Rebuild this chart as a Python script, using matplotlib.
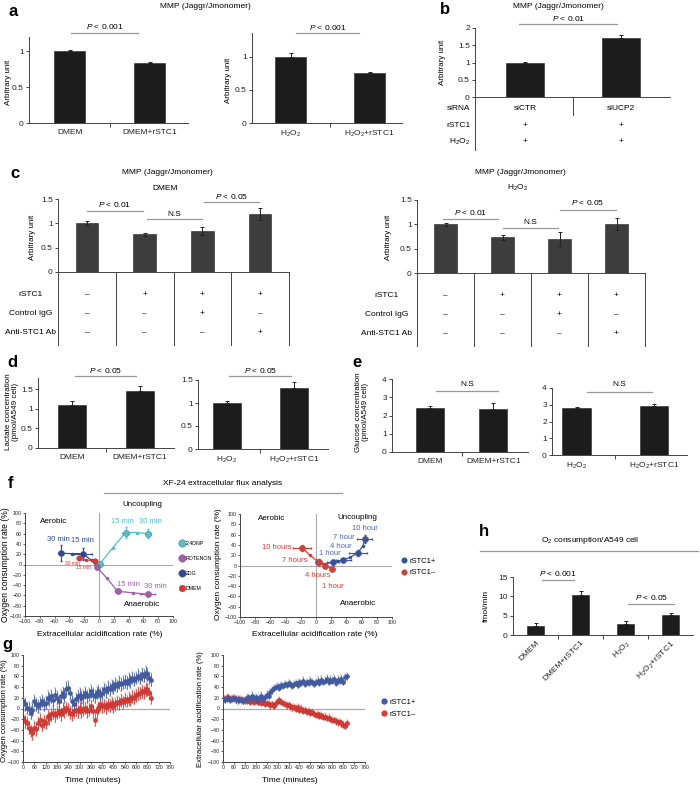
import matplotlib.pyplot as plt
from matplotlib.lines import Line2D

plt.rcParams['font.family'] = ['Liberation Sans', 'DejaVu Sans']
plt.rcParams['mathtext.fontset'] = 'custom'
plt.rcParams['mathtext.rm'] = 'Liberation Sans'
plt.rcParams['mathtext.it'] = 'Liberation Sans:italic'
plt.rcParams['axes.linewidth'] = 0.7
plt.rcParams['axes.edgecolor'] = '#444444'
plt.rcParams['xtick.color'] = '#444444'
plt.rcParams['ytick.color'] = '#444444'
plt.rcParams['xtick.labelcolor'] = '#222222'
plt.rcParams['ytick.labelcolor'] = '#222222'

# ---- data ----
h2o2 = 'H$_2$O$_2$'
a_left_lab = ['DMEM', 'DMEM+rSTC1']
a_left_val = [1.0, 0.84]
a_left_err = [0.02, 0.01]
a_right_lab = [h2o2, h2o2 + '+rSTC1']
a_right_val = [1.0, 0.75]
a_right_err = [0.06, 0.02]

b_val = [1.0, 1.72]
b_err = [0.01, 0.08]
b_rows = ['siRNA', 'rSTC1', h2o2]
b_table = [['siCTR', 'siUCP2'], ['+', '+'], ['+', '+']]

c_rows = ['rSTC1', 'Control IgG', 'Anti-STC1 Ab']
c_table = [['–', '+', '+', '+'], ['–', '–', '+', '–'], ['–', '–', '–', '+']]
c_dmem_val = [1.0, 0.78, 0.85, 1.19]
c_dmem_err = [0.04, 0.03, 0.08, 0.12]
c_h2o2_val = [1.0, 0.73, 0.70, 1.01]
c_h2o2_err = [0.03, 0.05, 0.15, 0.12]

d_left_val = [1.10, 1.46]
d_left_err = [0.10, 0.12]
d_right_val = [1.0, 1.33]
d_right_err = [0.04, 0.12]

e_left_val = [2.40, 2.38]
e_left_err = [0.10, 0.30]
e_right_val = [2.82, 2.90]
e_right_err = [0.05, 0.15]

h_lab = ['DMEM', 'DMEM+rSTC1', h2o2, h2o2 + '+rSTC1']
h_val = [2.4, 10.3, 2.9, 5.3]
h_err = [0.6, 1.2, 0.8, 0.4]

# f: XF-24 flux (ECAR %, OCR %)
dnp_path_x = [1, 19, 36, 51, 66]
dnp_path_y = [1, 33, 62, 62, 60]
dnp_key_x = [1, 36, 66]
dnp_key_y = [1, 62, 60]
dnp_key_xerr = [3, 5, 4]
dnp_key_yerr = [4, 10, 8]

rot_path_x = [-3, 11, 25, 46, 66]
rot_path_y = [-5, -27, -52, -55, -58]
rot_key_x = [-3, 25, 66]
rot_key_y = [-5, -52, -58]
rot_key_xerr = [3, 4, 10]
rot_key_yerr = [3, 4, 4]

dg_path_x = [-52, -37, -22, -10, -3]
dg_path_y = [22, 21, 21, 8, -3]
dg_key_x = [-52, -22]
dg_key_y = [22, 21]
dg_key_xerr = [4, 13]
dg_key_yerr = [15, 12]

dmem_path_x = [-27, -17, -6]
dmem_path_y = [13, 9, 7]
dmem_key_x = [-27, -6]
dmem_key_y = [13, 7]

pos_path_x = [3, 10, 22, 28, 36, 45, 55, 62, 64]
pos_path_y = [7, 3, 6, 8, 11, 16, 25, 38, 51]
pos_key_x = [3, 22, 36, 55, 64]
pos_key_y = [7, 6, 11, 25, 51]
pos_key_xerr = [3, 8, 10, 12, 10]
pos_key_yerr = [4, 5, 4, 6, 8]

neg_path_x = [-18, -8, 4, 12, 21]
neg_path_y = [34, 20, 6, 0, -6]
neg_key_x = [-18, 4, 12, 21]
neg_key_y = [34, 6, 0, -6]
neg_key_xerr = [12, 3, 3, 3]
neg_key_yerr = [5, 6, 4, 4]

# g: time course, every 10 min
minutes = list(range(0, 690, 10))
ocr_pos = [14, 8, 1, 0, -8, -2, 14, 8, 4, 9, 14, 8, 11, 20, 17, 23, 16, 26, 20, 14,
           23, 29, 23, 37, 39, 29, 14, 8, 17, 23, 26, 20, 23, 29, 23, 26, 32, 26, 23, 29,
           32, 26, 29, 36, 32, 39, 36, 42, 39, 45, 42, 48, 45, 48, 51, 48, 54, 51, 57, 54,
           57, 61, 57, 64, 61, 67, 64, 57, 54]
ocr_neg = [-18, -24, -27, -36, -42, -46, -36, -39, -27, -21, -30, -24, -27, -14, -18, -11, -8, -13, -8, -5,
           -11, -2, -5, 1, -2, -8, -11, -5, -2, -5, 1, -5, -2, 1, -5, -2, 4, -5, -21, -5,
           1, 8, 4, 6, 2, 8, 5, 10, 4, 8, 12, 10, 15, 12, 17, 14, 18, 16, 22, 20,
           25, 28, 29, 32, 30, 36, 35, 29, 20]
ecar_pos = [15, 17, 18, 20, 16, 18, 20, 17, 15, 18, 16, 14, 15,
            20, 22, 18, 24, 20, 22, 16, 20, 24, 18, 22, 26, 24,
            30, 34, 38, 40, 42, 38, 44, 42, 46, 44, 48, 46, 42,
            46, 48, 44, 50, 48, 52, 46, 50, 48, 52, 50, 46, 50,
            52, 48, 54, 50, 52, 56, 50, 54, 52, 56, 48, 54, 52,
            56, 50, 58, 60]
ecar_neg = [20, 18, 20, 22, 18, 20, 19, 17, 18, 16, 18, 15, 16,
            14, 16, 13, 15, 12, 14, 13, 12, 10, 12, 9, 10, 8,
            6, 8, 5, 10, 14, 16, 12, 10, 8, 6, 7, 4, 2,
            3, 0, 2, -2, 0, -4, -3, -6, -5, -8, -7, -10, -12,
            -11, -14, -13, -16, -15, -18, -17, -20, -22, -21, -24, -26, -25,
            -28, -30, -32, -28]
ocr_err = 12
ecar_err = 6

# ---- helpers ----
W, H = 700, 786
fig = plt.figure(figsize=(7, 7.86), dpi=100)


def box(x0, y0, x1, y1):
    return fig.add_axes([x0 / W, 1 - y1 / H, (x1 - x0) / W, (y1 - y0) / H])


def ftext(x, y, s, **kw):
    kw.setdefault('fontsize', 6)
    kw.setdefault('ha', 'center')
    kw.setdefault('va', 'center')
    fig.text(x / W, 1 - y / H, s, **kw)


def fline(xs, ys, **kw):
    fig.add_artist(Line2D([x / W for x in xs], [1 - y / H for y in ys],
                          transform=fig.transFigure, **kw))


def bar_panel(rect, vals, errs, ylim, xlim, width, yticks, labels=None,
              color='#1c1c1c', both=False):
    ax = box(*rect)
    x = list(range(len(vals)))
    yerr = errs if both else [[0] * len(errs), errs]
    ax.bar(x, vals, width, color=color, edgecolor='#222222', linewidth=0.4,
           yerr=yerr, error_kw=dict(elinewidth=0.7, capsize=1.5, capthick=0.7, ecolor='#222222'))
    ax.set_xlim(xlim)
    ax.set_ylim(ylim)
    ax.set_yticks(yticks)
    ax.set_yticklabels([f'{v:g}' for v in yticks])
    for s in ['top', 'right']:
        ax.spines[s].set_visible(False)
    ax.set_xticks(x)
    ax.set_xticklabels(labels if labels else [''] * len(x))
    ax.set_xticks([i + 0.5 for i in x[:-1]], minor=True)
    ax.tick_params(axis='x', which='major', length=0, labelsize=6, pad=4)
    ax.tick_params(axis='x', which='minor', length=3, width=0.7)
    ax.tick_params(axis='y', length=2.5, width=0.7, labelsize=6, pad=1.2)
    return ax


def sig(ax, x0, x1, y, ty, s):
    ax.plot([x0, x1], [y, y], color='#999999', lw=0.9, clip_on=False)
    ax.text((x0 + x1) / 2, ty, s, ha='center', va='center', fontsize=6)


def flux_axes(rect):
    ax = box(*rect)
    ax.set_xlim(-100, 100)
    ax.set_ylim(-100, 100)
    ax.axhline(0, color='#aaaaaa', lw=0.8, zorder=0)
    ax.axvline(0, color='#aaaaaa', lw=0.8, zorder=0)
    ax.set_xticks(range(-100, 101, 20))
    ax.set_yticks(range(-100, 101, 20))
    for s in ['top', 'right']:
        ax.spines[s].set_visible(False)
    ax.tick_params(labelsize=3.8, length=1.5, width=0.6, pad=1)
    return ax


def path(ax, px, py, kx, ky, c, kxe=None, kye=None, ms=4.5):
    ax.plot(px, py, '-o', color=c, lw=0.9, ms=1.5, zorder=2)
    if kxe is not None:
        ax.errorbar(kx, ky, xerr=kxe, yerr=kye, fmt='none', ecolor=c, elinewidth=0.8,
                    capsize=1, zorder=2)
    h, = ax.plot(kx, ky, 'o', color=c, ms=ms, mec='#666666', mew=0.3, ls='', zorder=3)
    return h


# ---- a ----
ftext(13, 11, 'a', fontsize=12, fontweight='bold')
ftext(205, 7, 'MMP (Jaggr/Jmonomer)')
ax = bar_panel((29, 36.6, 188, 123), a_left_val, a_left_err, (0, 1.2), (-0.51, 1.48), 0.39,
               [0, 0.5, 1], a_left_lab)
sig(ax, 0.02, 0.85, 1.25, 1.34, '$P$ < 0.001')
ax = bar_panel((252, 33, 402, 123), a_right_val, a_right_err, (0, 1.36), (-0.49, 1.41), 0.39,
               [0, 0.5, 1], a_right_lab)
sig(ax, 0.07, 0.87, 1.36, 1.45, '$P$ < 0.001')
ftext(9, 82, 'Arbitrary unit', rotation=90, fontsize=5.8)
ftext(229, 80, 'Arbitrary unit', rotation=90, fontsize=5.8)

# ---- b ----
ftext(445, 9, 'b', fontsize=12, fontweight='bold')
ftext(558, 7, 'MMP (Jaggr/Jmonomer)')
ax = bar_panel((475, 28, 670, 97), b_val, b_err, (0, 2), (-0.52, 1.51), 0.4,
               [0, 0.5, 1, 1.5, 2])
sig(ax, -0.06, 0.96, 2.12, 2.27, '$P$ < 0.01')
ax.plot([-0.52, -0.52], [0, -1.54], color='#444444', lw=0.7, clip_on=False)
ax.plot([0.5, 0.5], [0, -0.52], color='#444444', lw=0.7, clip_on=False)
for r, (name, row) in enumerate(zip(b_rows, b_table)):
    yy = [-0.32, -0.84, -1.30][r]
    ax.text(-0.57, yy, name, ha='right', va='center', fontsize=6)
    for i, v in enumerate(row):
        ax.text(i, yy, v, ha='center', va='center', fontsize=6)
ftext(443, 62, 'Arbitrary unit', rotation=90, fontsize=5.8)

# ---- c ----
ftext(15, 173, 'c', fontsize=12, fontweight='bold')
for rect, vals, errs, cx, tt, sub, sigs, lab_x in [
        ((58, 199, 289, 272), c_dmem_val, c_dmem_err, 167, 'MMP (Jaggr/Jmonomer)', 'DMEM',
         [(0.0, 0.97, 1.25, 1.38, '$P$ < 0.01'), (1.04, 1.99, 1.09, 1.19, 'N.S'),
          (2.03, 2.98, 1.44, 1.55, '$P$ < 0.05')], -0.97),
        ((417, 200, 645, 273), c_h2o2_val, c_h2o2_err, 520, 'MMP (Jaggr/Jmonomer)', h2o2,
         [(-0.04, 0.92, 1.11, 1.25, '$P$ < 0.01'), (1.01, 1.97, 0.92, 1.04, 'N.S'),
          (2.01, 2.99, 1.29, 1.44, '$P$ < 0.05')], -1.03)]:
    ftext(cx, 173, tt)
    ftext(cx - 2, 188, sub)
    ax = bar_panel(rect, vals, errs, (0, 1.5), (-0.5, 3.5), 0.39, [0, 0.5, 1, 1.5],
                   color='#3d3d3d', both=True)
    ax.tick_params(axis='x', which='minor', length=0)
    for s in sigs:
        sig(ax, *s)
    for xv in [-0.5, 0.5, 1.5, 2.5, 3.5]:
        ax.plot([xv, xv], [0, -1.5], color='#444444', lw=0.7, clip_on=False)
    for r, (name, row) in enumerate(zip(c_rows, c_table)):
        yy = [-0.46, -0.85, -1.25][r]
        ax.text(lab_x, yy, name, ha='center', va='center', fontsize=6)
        for i, v in enumerate(row):
            ax.text(i, yy, v, ha='center', va='center', fontsize=6)
ftext(33, 237, 'Arbitrary unit', rotation=90, fontsize=5.8)
ftext(388, 237, 'Arbitrary unit', rotation=90, fontsize=5.8)

# ---- d ----
ftext(12, 362, 'd', fontsize=12, fontweight='bold')
ax = bar_panel((38, 378, 174, 448), d_left_val, d_left_err, (0, 1.78), (-0.5, 1.5), 0.41,
               [0, 0.5, 1, 1.5], a_left_lab)
sig(ax, 0.04, 0.94, 1.83, 1.97, '$P$ < 0.05')
ax = bar_panel((198, 380, 328, 449), d_right_val, d_right_err, (0, 1.5), (-0.43, 1.51), 0.42,
               [0, 0.5, 1, 1.5], a_right_lab)
sig(ax, 0.04, 0.96, 1.59, 1.71, '$P$ < 0.05')
ftext(12, 412, 'Lactate concentration\n(pmol/A549 cell)', rotation=90, linespacing=1.0,
      fontsize=5.8)

# ---- e ----
ftext(357, 362, 'e', fontsize=12, fontweight='bold')
ax = bar_panel((392, 379, 528, 452), e_left_val, e_left_err, (0, 4), (-0.6, 1.55), 0.44,
               [0, 1, 2, 3, 4], a_left_lab)
sig(ax, 0.1, 1.08, 3.34, 3.68, 'N.S')
ax = bar_panel((552, 388, 687, 455), e_right_val, e_right_err, (0, 4), (-0.32, 1.43), 0.37,
               [0, 1, 2, 3, 4], a_right_lab)
sig(ax, 0.14, 0.97, 3.76, 4.18, 'N.S')
ftext(362, 412, 'Glucose concentration\n(pmol/A549 cell)', rotation=90, linespacing=1.0,
      fontsize=5.8)

# ---- f ----
ftext(10, 483, 'f', fontsize=12, fontweight='bold')
ftext(223, 484, 'XF-24 extracellular flux analysis')
fline([104, 342], [493, 493], color='#999999', lw=0.9)

c_dnp, c_rot, c_dg, c_dm = '#4cc3cf', '#a55bae', '#2b48a0', '#e2342c'
ax = flux_axes((25, 513, 173, 616))
h1 = path(ax, dnp_path_x, dnp_path_y, dnp_key_x, dnp_key_y, c_dnp, dnp_key_xerr, dnp_key_yerr)
h2 = path(ax, rot_path_x, rot_path_y, rot_key_x, rot_key_y, c_rot, rot_key_xerr, rot_key_yerr)
h3 = path(ax, dg_path_x, dg_path_y, dg_key_x, dg_key_y, c_dg, dg_key_xerr, dg_key_yerr)
h4 = path(ax, dmem_path_x, dmem_path_y, dmem_key_x, dmem_key_y, c_dm, ms=4)
ax.text(-62, 84, 'Aerobic', fontsize=5.8, ha='center', va='center')
ax.text(59, 116, 'Uncoupling', fontsize=5.8, ha='center', va='center', clip_on=False)
ax.text(58, -78, 'Anaerobic', fontsize=5.8, ha='center', va='center')
ax.text(31, 83, '15 min', color=c_dnp, fontsize=5.5, ha='center', va='center')
ax.text(69, 83, '30 min', color=c_dnp, fontsize=5.5, ha='center', va='center')
ax.text(40, -39, '15 min', color=c_rot, fontsize=5.5, ha='center', va='center')
ax.text(76, -42, '30 min', color=c_rot, fontsize=5.5, ha='center', va='center')
ax.text(-55, 48, '30 min', color=c_dg, fontsize=5.5, ha='center', va='center')
ax.text(-23, 47, '15 min', color=c_dg, fontsize=5.5, ha='center', va='center')
ax.text(-36, 2, '30 min', color=c_dm, fontsize=3.5, ha='center', va='center')
ax.text(-21, -6, '15 min', color=c_dm, fontsize=3.5, ha='center', va='center')
ax.legend([h1, h2, h3, h4], ['2,4DNP', 'ROTENON', '2DG', 'DMEM'], loc='upper left',
          bbox_to_anchor=(177 / W, 1 - 538 / H), bbox_transform=fig.transFigure,
          frameon=False, fontsize=3.8, labelspacing=1.9, handletextpad=0.4,
          handlelength=0.8, borderpad=0, markerscale=1.2)

c_pos, c_neg = '#3550a8', '#e03a33'
ax = flux_axes((240, 514, 392, 617))
hp = path(ax, pos_path_x, pos_path_y, pos_key_x, pos_key_y, c_pos, pos_key_xerr, pos_key_yerr)
hn = path(ax, neg_path_x, neg_path_y, neg_key_x, neg_key_y, c_neg, neg_key_xerr, neg_key_yerr)
ax.text(-58, 92, 'Aerobic', fontsize=5.8, ha='center', va='center')
ax.text(55, 93, 'Uncoupling', fontsize=5.8, ha='center', va='center')
ax.text(55, -74, 'Anaerobic', fontsize=5.8, ha='center', va='center')
for s, xx, yy in [('1 hour', 18, 24), ('4 hour', 33, 36), ('7 hour', 37, 55), ('10 hour', 64, 72)]:
    ax.text(xx, yy, s, color='#4d67b8', fontsize=5.5, ha='center', va='center')
for s, xx, yy in [('10 hours', -52, 34), ('7 hours', -28, 10), ('4 hours', 2, -20), ('1 hour', 22, -40)]:
    ax.text(xx, yy, s, color=c_neg, fontsize=5.5, ha='center', va='center')
ax.legend([hp, hn], ['rSTC1+', 'rSTC1–'], loc='upper left',
          bbox_to_anchor=(397 / W, 1 - 554 / H), bbox_transform=fig.transFigure,
          frameon=False, fontsize=5.5, labelspacing=0.5, handletextpad=0.3,
          handlelength=0.8, borderpad=0, markerscale=0.9)

ftext(6, 565, 'Oxygen consumption rate (%)', rotation=90, fontsize=6.2)
ftext(219, 564, 'Oxygen consumption rate (%)', rotation=90, fontsize=6.0)
ftext(100, 634, 'Extracellular acidification rate (%)', fontsize=6)
ftext(315, 635, 'Extracellular acidification rate (%)', fontsize=6)

# ---- g ----
ftext(7, 644, 'g', fontsize=12, fontweight='bold')
for rect, ys_pos, ys_neg, err in [((23, 655, 170, 762), ocr_pos, ocr_neg, ocr_err),
                                   ((223, 655, 365, 762), ecar_pos, ecar_neg, ecar_err)]:
    ax = box(*rect)
    ax.set_xlim(0, 780)
    ax.set_ylim(-100, 100)
    ax.axhline(0, color='#aaaaaa', lw=0.9, zorder=0)
    ax.errorbar(minutes, ys_neg, yerr=err, fmt='o', color=c_neg, ms=3, mec='#a03030',
                mew=0.3, elinewidth=0.6, capsize=0.8, zorder=2)
    ax.errorbar(minutes, ys_pos, yerr=err, fmt='o', color='#3c5cb0', ms=3, mec='#555577',
                mew=0.3, elinewidth=0.6, capsize=0.8, zorder=3)
    ax.set_xticks(range(0, 781, 60))
    ax.set_yticks(range(-100, 101, 20))
    for s in ['top', 'right']:
        ax.spines[s].set_visible(False)
    ax.tick_params(labelsize=3.8, length=1.5, width=0.6, pad=1)
gp = Line2D([], [], marker='o', ls='', color='#3c5cb0', ms=3.5)
gn = Line2D([], [], marker='o', ls='', color=c_neg, ms=3.5)
ax.legend([gp, gn], ['rSTC1+', 'rSTC1–'], loc='upper left',
          bbox_to_anchor=(377 / W, 1 - 695 / H), bbox_transform=fig.transFigure,
          frameon=False, fontsize=5.5, labelspacing=0.6, handletextpad=0.3,
          handlelength=0.8, borderpad=0)
ftext(5, 711, 'Oxygen consumption rate (%)', rotation=90, fontsize=5.6)
ftext(200, 709, 'Extracellular acidification rate (%)', rotation=90, fontsize=5.6)
ftext(93, 781, 'Time (minutes)', fontsize=6)
ftext(290, 781, 'Time (minutes)', fontsize=6)

# ---- h ----
ftext(484, 532, 'h', fontsize=12, fontweight='bold')
ftext(590, 541, 'O$_2$ consumption/A549 cell')
fline([480, 698], [551, 551], color='#999999', lw=0.9)
ax = bar_panel((513, 577, 693, 635), h_val, h_err, (0, 15), (-0.5, 3.5), 0.38,
               [0, 5, 10, 15])
ax.set_xticklabels(h_lab, rotation=45, ha='right', rotation_mode='anchor')
ax.tick_params(axis='x', which='major', pad=3)
sig(ax, 0.14, 0.86, 14.2, 16.0, '$P$ < 0.001')
sig(ax, 2.06, 3.08, 8.0, 9.8, '$P$ < 0.05')
ftext(486, 606, 'fmol/min', rotation=90)

fig.savefig('out.png', dpi=100)
